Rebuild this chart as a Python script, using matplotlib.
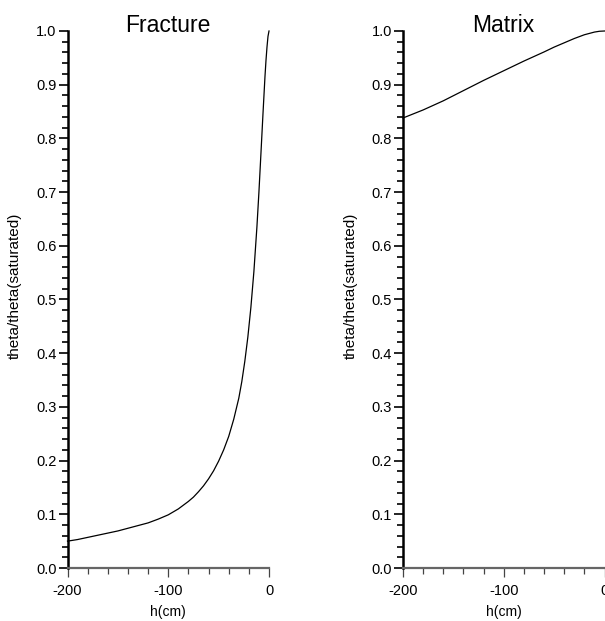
import matplotlib
matplotlib.use("Agg")
import matplotlib.pyplot as plt
from matplotlib.ticker import MultipleLocator

plt.rcParams['font.family'] = ['Liberation Sans', 'DejaVu Sans']

# values
frac_h = [-200, -190, -180, -170, -160, -150, -140, -130, -120, -110, -100,
          -90, -80, -75, -70, -65, -60, -55, -50, -45, -40, -35, -30, -27,
          -24, -21, -18, -15, -12, -10, -8, -6, -5, -4, -3, -2, -1, 0]
frac_theta = [0.050, 0.053, 0.057, 0.061, 0.065, 0.069, 0.074, 0.079, 0.084,
              0.091, 0.099, 0.110, 0.124, 0.132, 0.142, 0.153, 0.166, 0.181,
              0.199, 0.220, 0.245, 0.277, 0.316, 0.347, 0.385, 0.430, 0.485,
              0.552, 0.635, 0.700, 0.772, 0.845, 0.880, 0.915, 0.945, 0.970,
              0.990, 1.000]

mat_h = [-200, -180, -160, -140, -120, -100, -80, -60, -50, -40, -30, -20,
         -10, -5, 0]
mat_theta = [0.838, 0.853, 0.870, 0.889, 0.908, 0.926, 0.944, 0.961, 0.970,
             0.978, 0.986, 0.993, 0.998, 0.9995, 1.000]

titles = ["Fracture", "Matrix"]
xlabel = "h(cm)"
ylabel = "theta/theta(saturated)"

W, H = 605, 621
fig = plt.figure(figsize=(W / 100, H / 100), dpi=100)

lefts = [67.5, 403]
ax_w = 201.5
top_px, bot_px = 31, 568

for left, title, hh, tt in zip(lefts, titles, [frac_h, mat_h], [frac_theta, mat_theta]):
    ax = fig.add_axes([left / W, (H - bot_px) / H, ax_w / W, (bot_px - top_px) / H])
    ax.plot(hh, tt, color='black', lw=0.9, clip_on=False)
    ax.set_xlim(-200, 0)
    ax.set_ylim(0, 1.0)
    for s in ['top', 'right']:
        ax.spines[s].set_visible(False)
    ax.spines['left'].set_linewidth(1.8)
    ax.spines['left'].set_color('black')
    ax.spines['bottom'].set_linewidth(1.6)
    ax.spines['bottom'].set_color('#666666')
    ax.xaxis.set_major_locator(MultipleLocator(100))
    ax.xaxis.set_minor_locator(MultipleLocator(20))
    ax.yaxis.set_major_locator(MultipleLocator(0.1))
    ax.yaxis.set_minor_locator(MultipleLocator(0.02))
    ax.xaxis.set_major_formatter(lambda v, p: "%d" % round(v))
    ax.yaxis.set_major_formatter(lambda v, p: "%.1f" % v)
    ax.tick_params(axis='y', which='major', direction='out', length=6.5, width=1.2,
                   pad=1.5, labelsize=10.5)
    ax.tick_params(axis='y', which='minor', direction='out', length=4.3, width=1.2)
    ax.tick_params(axis='x', which='major', direction='out', length=6.5, width=0.9,
                   pad=5, labelsize=10.5, color='#444444')
    ax.tick_params(axis='x', which='minor', direction='out', length=4.3, width=0.9,
                   color='#444444')
    ax.text(0.5, 0.999, title, transform=ax.transAxes, ha='center',
            va='baseline', fontsize=16.5)
    ax.set_xlabel(xlabel, fontsize=10)
    ax.set_ylabel(ylabel, fontsize=11)
    ax.xaxis.set_label_coords(0.5, -0.068)
    ax.yaxis.set_label_coords(-0.225, 0.525)

fig.savefig("out.png", dpi=100)
